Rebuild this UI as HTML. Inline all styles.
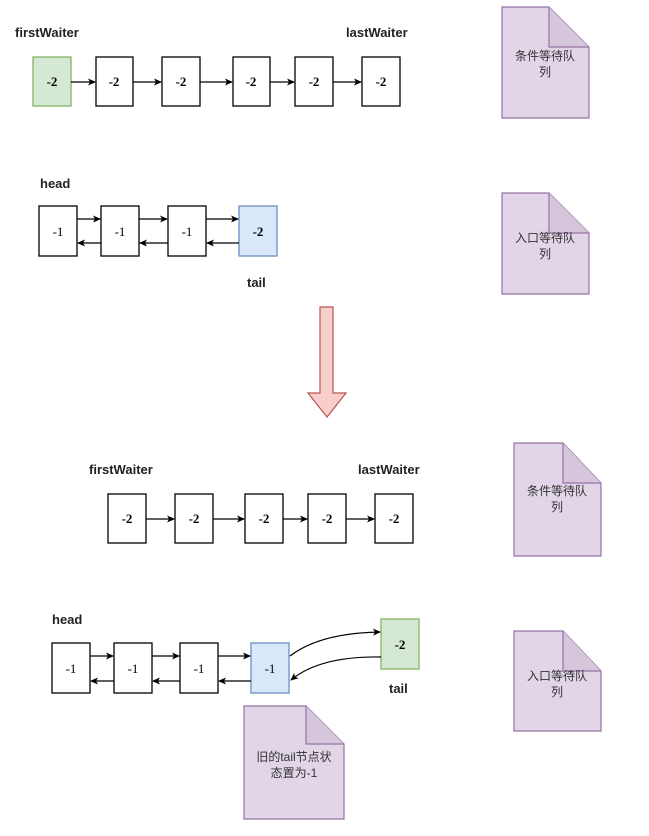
<!DOCTYPE html>
<html><head><style>
body{margin:0;background:#fff;}
svg text{font-family:"Liberation Sans","Noto Sans CJK SC",sans-serif;}
svg .sf text{font-family:"Liberation Serif",serif;}
</style></head><body>
<svg width="649" height="831" xmlns="http://www.w3.org/2000/svg">
<defs><marker id="a" markerWidth="8" markerHeight="8" refX="7" refY="4" orient="auto" markerUnits="userSpaceOnUse"><path d="M0,0.5 L8,4 L0,7.5 L2,4Z" fill="#000"/></marker></defs>
<g font-size="13" font-weight="bold" fill="#222">
<text x="15" y="37">firstWaiter</text><text x="346" y="37">lastWaiter</text>
<text x="40" y="188">head</text><text x="247" y="287">tail</text>
<text x="89" y="474">firstWaiter</text><text x="358" y="474">lastWaiter</text>
<text x="52" y="624">head</text><text x="389" y="693">tail</text>
</g>
<g stroke="#000" stroke-width="1.3" fill="#fff">
<rect x="33" y="57" width="38" height="49" fill="#d5e8d4" stroke="#82b366"/>
<rect x="96" y="57" width="37" height="49"/><rect x="162" y="57" width="38" height="49"/><rect x="233" y="57" width="37" height="49"/><rect x="295" y="57" width="38" height="49"/><rect x="362" y="57" width="38" height="49"/>
<rect x="39" y="206" width="38" height="50"/><rect x="101" y="206" width="38" height="50"/><rect x="168" y="206" width="38" height="50"/>
<rect x="239" y="206" width="38" height="50" fill="#dae8fc" stroke="#6c8ebf"/>
<rect x="108" y="494" width="38" height="49"/><rect x="175" y="494" width="38" height="49"/><rect x="245" y="494" width="38" height="49"/><rect x="308" y="494" width="38" height="49"/><rect x="375" y="494" width="38" height="49"/>
<rect x="52" y="643" width="38" height="50"/><rect x="114" y="643" width="38" height="50"/><rect x="180" y="643" width="38" height="50"/>
<rect x="251" y="643" width="38" height="50" fill="#dae8fc" stroke="#6c8ebf"/>
<rect x="381" y="619" width="38" height="50" fill="#d5e8d4" stroke="#82b366"/>
</g>
<g class="sf" font-size="13" text-anchor="middle" font-weight="bold">
<text x="52" y="86">-2</text><text x="114" y="86">-2</text><text x="181" y="86">-2</text><text x="251" y="86">-2</text><text x="314" y="86">-2</text><text x="381" y="86">-2</text>
<text x="127" y="523">-2</text><text x="194" y="523">-2</text><text x="264" y="523">-2</text><text x="327" y="523">-2</text><text x="394" y="523">-2</text>
<text x="258" y="236">-2</text><text x="400" y="649">-2</text>
</g>
<g class="sf" font-size="13" text-anchor="middle">
<text x="58" y="236">-1</text><text x="120" y="236">-1</text><text x="187" y="236">-1</text>
<text x="71" y="673">-1</text><text x="133" y="673">-1</text><text x="199" y="673">-1</text><text x="270" y="673">-1</text>
</g>
<g stroke="#000" stroke-width="1.2" fill="none" marker-end="url(#a)">
<line x1="71" y1="82" x2="95" y2="82"/><line x1="133" y1="82" x2="161" y2="82"/><line x1="200" y1="82" x2="232" y2="82"/><line x1="270" y1="82" x2="294" y2="82"/><line x1="333" y1="82" x2="361" y2="82"/>
<line x1="146" y1="519" x2="174" y2="519"/><line x1="213" y1="519" x2="244" y2="519"/><line x1="283" y1="519" x2="307" y2="519"/><line x1="346" y1="519" x2="374" y2="519"/>
<line x1="77" y1="219" x2="100" y2="219"/><line x1="139" y1="219" x2="167" y2="219"/><line x1="206" y1="219" x2="238" y2="219"/>
<line x1="101" y1="243" x2="78" y2="243"/><line x1="168" y1="243" x2="140" y2="243"/><line x1="239" y1="243" x2="207" y2="243"/>
<line x1="90" y1="656" x2="113" y2="656"/><line x1="152" y1="656" x2="179" y2="656"/><line x1="218" y1="656" x2="250" y2="656"/>
<line x1="114" y1="681" x2="91" y2="681"/><line x1="180" y1="681" x2="153" y2="681"/><line x1="251" y1="681" x2="219" y2="681"/>
<path d="M290,656 Q320,633 380,632"/><path d="M381,657 Q320,656 291,680"/>
</g>
<path d="M320,307 H333 V393 H346 L327,417 L308,393 H320 Z" fill="#f8cecc" stroke="#b85450" stroke-width="1.2"/>
<g stroke="#9673a6" stroke-width="1.2" fill="#e1d5e7">
<path d="M502,7 H549 L589,47 V118 H502Z"/><path d="M549,7 V47 H589" fill="#d5c6dc"/>
<path d="M502,193 H549 L589,233 V294 H502Z"/><path d="M549,193 V233 H589" fill="#d5c6dc"/>
<path d="M514,443 H563 L601,483 V556 H514Z"/><path d="M563,443 V483 H601" fill="#d5c6dc"/>
<path d="M514,631 H563 L601,671 V731 H514Z"/><path d="M563,631 V671 H601" fill="#d5c6dc"/>
<path d="M244,706 H306 L344,744 V819 H244Z"/><path d="M306,706 V744 H344" fill="#d5c6dc"/>
</g>
<g font-size="12" fill="#333" text-anchor="middle">
<text x="545" y="60">条件等待队</text><text x="545" y="76">列</text>
<text x="545" y="242">入口等待队</text><text x="545" y="258">列</text>
<text x="557" y="495">条件等待队</text><text x="557" y="511">列</text>
<text x="557" y="680">入口等待队</text><text x="557" y="696">列</text>
<text x="294" y="761">旧的tail节点状</text><text x="294" y="777">态置为-1</text>
</g>
</svg>
</body></html>
